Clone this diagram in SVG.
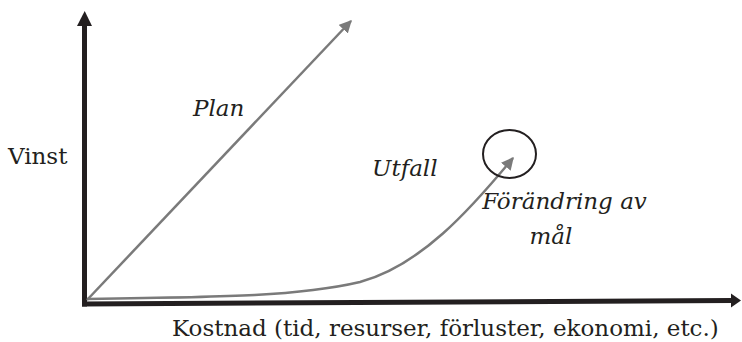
<svg xmlns="http://www.w3.org/2000/svg" width="742" height="342" viewBox="0 0 742 342">
<style>
.lbl{font-family:"DejaVu Serif","Liberation Serif",serif;font-size:23px;fill:#231f20}
.it{font-style:italic}
.axis{stroke:#231f20;stroke-width:5;fill:none}
.gray{stroke:#7a7a7a;stroke-width:2.5;fill:none}
</style>
<defs>
<marker id="ga" viewBox="0 0 10 10" refX="9" refY="5" markerWidth="5" markerHeight="5" orient="auto" markerUnits="strokeWidth">
<path d="M0,0 L10,5 L0,10 z" fill="#7a7a7a"/>
</marker>
</defs>
<rect width="742" height="342" fill="#fff"/>
<g id="axes">
<line class="axis" x1="84.5" y1="306.5" x2="84.5" y2="25"/>
<polygon points="84.7,11 77,26 92,26" fill="#231f20"/>
<line class="axis" x1="82" y1="304" x2="732" y2="300.5"/>
<polygon points="741,300.5 731,293.5 731,307.5" fill="#231f20"/>
</g>
<g id="connectors">
<line class="gray" x1="87" y1="300" x2="351" y2="21" marker-end="url(#ga)"/>
<path class="gray" d="M87,299 C230,297 300,296 360,282 C420,266 470,210 513,158" marker-end="url(#ga)"/>
</g>
<g id="circle"><ellipse cx="509.5" cy="154" rx="26.5" ry="24" fill="none" stroke="#231f20" stroke-width="2"/></g>
<g id="vinst"><text class="lbl" x="8" y="164">Vinst</text></g>
<g id="plan"><text class="lbl it" x="193" y="116">Plan</text></g>
<g id="utfall"><text class="lbl it" x="372" y="176">Utfall</text></g>
<g id="forandring"><text class="lbl it" x="564.5" y="209" text-anchor="middle">Förändring av</text><text class="lbl it" x="551" y="244" text-anchor="middle">mål</text></g>
<g id="kostnad"><text class="lbl" x="172" y="336">Kostnad (tid, resurser, förluster, ekonomi, etc.)</text></g>
</svg>
